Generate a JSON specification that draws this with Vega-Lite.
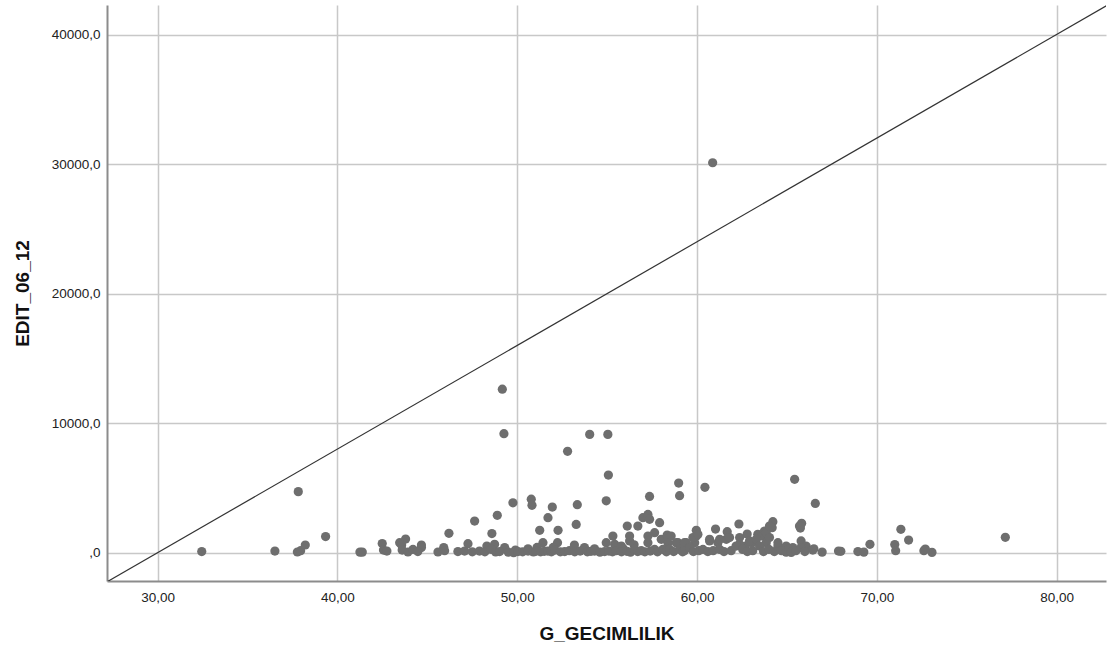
{
  "$schema": "https://vega.github.io/schema/vega-lite/v6.json",
  "width": 999,
  "height": 576,
  "autosize": "none",
  "padding": {"left": 107, "top": 5, "right": 4, "bottom": 74},
  "background": "white",
  "config": {
    "view": {"stroke": null},
    "font": "Liberation Sans",
    "axis": {
      "gridColor": "#c8c8c8",
      "gridWidth": 1.5,
      "domainColor": "#8c8c8c",
      "domainWidth": 2,
      "ticks": false,
      "labelFont": "Liberation Sans",
      "labelFontSize": 13.5,
      "labelColor": "#222222",
      "titleFont": "Liberation Sans",
      "titleFontSize": 19,
      "titleFontWeight": "bold",
      "titleColor": "#111111"
    }
  },
  "datasets": {
    "pts": [
      {"g": 60.87, "e": 30100}, {"g": 49.17, "e": 12620}, {"g": 49.26, "e": 9180}, {"g": 54.03, "e": 9130}, {"g": 55.04, "e": 9130},
      {"g": 52.80, "e": 7820}, {"g": 55.07, "e": 5990}, {"g": 58.98, "e": 5370}, {"g": 60.44, "e": 5040}, {"g": 59.03, "e": 4400},
      {"g": 57.36, "e": 4340}, {"g": 54.95, "e": 4000}, {"g": 53.34, "e": 3700}, {"g": 49.76, "e": 3850}, {"g": 50.78, "e": 4130},
      {"g": 50.82, "e": 3650}, {"g": 51.95, "e": 3520}, {"g": 37.82, "e": 4710}, {"g": 39.34, "e": 1240}, {"g": 65.43, "e": 5660},
      {"g": 66.58, "e": 3800}, {"g": 65.82, "e": 2260}, {"g": 65.75, "e": 1900}, {"g": 64.22, "e": 2390}, {"g": 64.18, "e": 1930},
      {"g": 71.34, "e": 1800}, {"g": 71.77, "e": 970}, {"g": 77.15, "e": 1180}, {"g": 69.62, "e": 640}, {"g": 71.0, "e": 620},
      {"g": 71.05, "e": 150}, {"g": 72.62, "e": 150}, {"g": 73.07, "e": 20}, {"g": 72.7, "e": 280},
      {"g": 38.21, "e": 590}, {"g": 42.49, "e": 700}, {"g": 43.46, "e": 770}, {"g": 43.79, "e": 1050}, {"g": 43.57, "e": 590},
      {"g": 44.67, "e": 590}, {"g": 44.67, "e": 390}, {"g": 45.91, "e": 390}, {"g": 46.2, "e": 1490}, {"g": 47.26, "e": 690},
      {"g": 47.63, "e": 2440}, {"g": 48.31, "e": 510}, {"g": 48.59, "e": 1470}, {"g": 48.89, "e": 2880}, {"g": 48.74, "e": 640},
      {"g": 49.3, "e": 390}, {"g": 51.43, "e": 770}, {"g": 51.25, "e": 1720}, {"g": 51.71, "e": 2700}, {"g": 52.27, "e": 1720},
      {"g": 52.24, "e": 770}, {"g": 53.28, "e": 2180}, {"g": 53.18, "e": 590}, {"g": 53.74, "e": 390}, {"g": 54.95, "e": 770},
      {"g": 55.32, "e": 1280}, {"g": 55.42, "e": 640}, {"g": 55.79, "e": 510}, {"g": 56.12, "e": 2050}, {"g": 56.25, "e": 900},
      {"g": 56.25, "e": 1280}, {"g": 56.71, "e": 2050}, {"g": 56.99, "e": 2700}, {"g": 57.27, "e": 2950}, {"g": 57.36, "e": 2570},
      {"g": 57.27, "e": 1280}, {"g": 57.64, "e": 1540}, {"g": 57.92, "e": 2310}, {"g": 58.01, "e": 1030}, {"g": 57.27, "e": 770},
      {"g": 58.34, "e": 1360}, {"g": 58.56, "e": 1280}, {"g": 59.96, "e": 1720}, {"g": 61.03, "e": 1820}, {"g": 61.68, "e": 1620},
      {"g": 62.33, "e": 2210}, {"g": 62.79, "e": 1430}, {"g": 63.38, "e": 1410}, {"g": 63.75, "e": 1670}, {"g": 64.5, "e": 510},
      {"g": 63.63, "e": 1280}, {"g": 63.85, "e": 770}, {"g": 63.06, "e": 770}, {"g": 62.69, "e": 510}, {"g": 62.36, "e": 640},
      {"g": 61.63, "e": 1030}, {"g": 61.16, "e": 770}, {"g": 60.7, "e": 1030}, {"g": 59.96, "e": 1280}, {"g": 59.87, "e": 770},
      {"g": 59.4, "e": 770}, {"g": 58.94, "e": 770}, {"g": 58.38, "e": 770}, {"g": 59.77, "e": 1160}, {"g": 60.05, "e": 1410},
      {"g": 63.85, "e": 1540}, {"g": 64.03, "e": 2050}, {"g": 64.03, "e": 1160}, {"g": 64.5, "e": 770}, {"g": 65.7, "e": 2050},
      {"g": 65.79, "e": 900}, {"g": 64.96, "e": 510}, {"g": 65.33, "e": 390}, {"g": 66.07, "e": 510}, {"g": 58.84, "e": 770},
      {"g": 59.3, "e": 770}, {"g": 60.7, "e": 900}, {"g": 61.26, "e": 1030}, {"g": 61.81, "e": 1160}, {"g": 62.37, "e": 1160},
      {"g": 62.92, "e": 900}, {"g": 63.3, "e": 1030}, {"g": 56.5, "e": 600}, {"g": 55.9, "e": 300}, {"g": 50.6, "e": 300},
      {"g": 51.1, "e": 400}, {"g": 54.3, "e": 300}, {"g": 52.0, "e": 400}, {"g": 66.5, "e": 300}, {"g": 49.9, "e": 200},
      {"g": 32.45, "e": 80}, {"g": 36.52, "e": 120}, {"g": 37.77, "e": 50}, {"g": 37.95, "e": 150}, {"g": 41.25, "e": 40},
      {"g": 41.38, "e": 40}, {"g": 42.56, "e": 200}, {"g": 42.75, "e": 120}, {"g": 43.6, "e": 200}, {"g": 43.92, "e": 50},
      {"g": 44.2, "e": 250}, {"g": 44.47, "e": 80}, {"g": 45.59, "e": 50}, {"g": 45.96, "e": 150}, {"g": 46.7, "e": 80},
      {"g": 47.07, "e": 120}, {"g": 47.5, "e": 60}, {"g": 47.9, "e": 120}, {"g": 48.2, "e": 60}, {"g": 48.56, "e": 250},
      {"g": 48.8, "e": 50}, {"g": 49.02, "e": 80}, {"g": 49.5, "e": 40}, {"g": 49.8, "e": 0}, {"g": 50.04, "e": 80},
      {"g": 50.3, "e": 60}, {"g": 50.6, "e": 120}, {"g": 50.9, "e": 50}, {"g": 51.06, "e": 120}, {"g": 51.3, "e": 60},
      {"g": 51.5, "e": 100}, {"g": 51.7, "e": 120}, {"g": 51.9, "e": 60}, {"g": 52.1, "e": 200}, {"g": 52.4, "e": 60},
      {"g": 52.64, "e": 80}, {"g": 52.9, "e": 150}, {"g": 53.2, "e": 60}, {"g": 53.5, "e": 120}, {"g": 53.9, "e": 60},
      {"g": 54.1, "e": 100}, {"g": 54.3, "e": 120}, {"g": 54.6, "e": 40}, {"g": 54.86, "e": 80}, {"g": 55.1, "e": 120},
      {"g": 55.3, "e": 60}, {"g": 55.5, "e": 150}, {"g": 55.8, "e": 60}, {"g": 56.1, "e": 100}, {"g": 56.3, "e": 40},
      {"g": 56.53, "e": 250}, {"g": 56.7, "e": 80}, {"g": 56.9, "e": 150}, {"g": 57.1, "e": 60}, {"g": 57.4, "e": 120},
      {"g": 57.64, "e": 250}, {"g": 57.8, "e": 60}, {"g": 58.1, "e": 250}, {"g": 58.3, "e": 60}, {"g": 58.48, "e": 250},
      {"g": 58.7, "e": 80}, {"g": 59.04, "e": 250}, {"g": 59.2, "e": 60}, {"g": 59.3, "e": 150}, {"g": 59.59, "e": 390},
      {"g": 59.8, "e": 80}, {"g": 60.1, "e": 150}, {"g": 60.33, "e": 250}, {"g": 60.6, "e": 80}, {"g": 60.9, "e": 150},
      {"g": 61.26, "e": 250}, {"g": 61.5, "e": 80}, {"g": 61.9, "e": 150}, {"g": 62.17, "e": 510}, {"g": 62.54, "e": 250},
      {"g": 62.8, "e": 80}, {"g": 63.1, "e": 150}, {"g": 63.48, "e": 510}, {"g": 63.7, "e": 80}, {"g": 64.0, "e": 250},
      {"g": 64.3, "e": 80}, {"g": 64.7, "e": 150}, {"g": 64.96, "e": 40}, {"g": 65.1, "e": 250}, {"g": 65.24, "e": 20},
      {"g": 65.5, "e": 150}, {"g": 65.79, "e": 390}, {"g": 66.0, "e": 80}, {"g": 66.44, "e": 200}, {"g": 66.96, "e": 40},
      {"g": 67.87, "e": 120}, {"g": 68.0, "e": 100}, {"g": 68.95, "e": 80}, {"g": 69.28, "e": 40}
    ],
    "ref": [
      {"g": 25, "e": -4000}, {"g": 85, "e": 44000}
    ]
  },
  "layer": [
    {
      "data": {"name": "ref"},
      "mark": {"type": "line", "color": "#333333", "strokeWidth": 1.2, "clip": true},
      "encoding": {
        "x": {"field": "g", "type": "quantitative"},
        "y": {"field": "e", "type": "quantitative"}
      }
    },
    {
      "data": {"name": "pts"},
      "mark": {"type": "circle", "color": "#6e6e6e", "opacity": 1, "size": 85},
      "encoding": {
        "x": {
          "field": "g", "type": "quantitative",
          "scale": {"domain": [27.18, 82.75], "nice": false, "zero": false},
          "axis": {
            "title": "G_GECIMLILIK",
            "values": [30, 40, 50, 60, 70, 80],
            "labelExpr": "replace(format(datum.value, '.2f'), '.', ',')",
            "labelPadding": 9,
            "titlePadding": 21
          }
        },
        "y": {
          "field": "e", "type": "quantitative",
          "scale": {"domain": [-2190, 42280], "nice": false, "zero": false},
          "axis": {
            "title": "EDIT_06_12",
            "values": [0, 10000, 20000, 30000, 40000],
            "labelExpr": "datum.value == 0 ? ',0' : replace(format(datum.value, '.1f'), '.', ',')",
            "labelPadding": 7,
            "titlePadding": 19
          }
        }
      }
    }
  ]
}
